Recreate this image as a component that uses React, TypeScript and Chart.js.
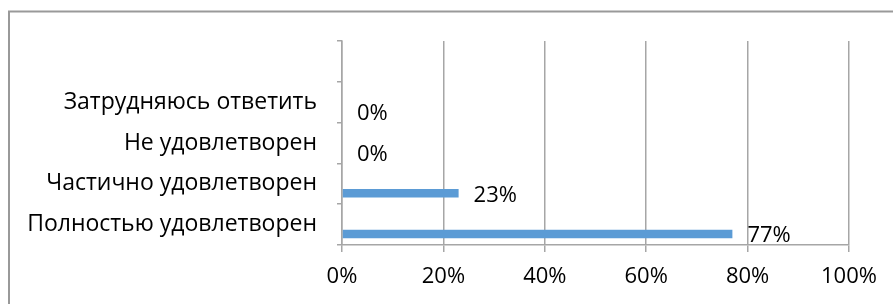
import React, { useEffect, useRef } from 'react';
import { Chart, registerables } from 'chart.js';

Chart.register(...registerables);

// Categories listed bottom-to-top (as in the source chart); the last one is an empty slot
const categories = ['Полностью удовлетворен', 'Частично удовлетворен', 'Не удовлетворен', 'Затрудняюсь ответить', ''];
const values: (number | null)[] = [77, 23, 0, 0, null];
const emptySeries: (number | null)[] = [null, null, null, null, null];
const xTickValues = [0, 20, 40, 60, 80, 100];

const FONT = '"Open Sans", sans-serif';
const FONT_SIZE = 22;
const CAT_FONT_SIZE = 23;
const BAR_COLOR = '#5b9bd5';
const GRID_COLOR = '#a6a6a6';
const TEXT_COLOR = '#000000';

const frame = {
  id: 'frame',
  beforeDraw(chart: any) {
    const ctx = chart.ctx;
    ctx.save();
    ctx.strokeStyle = '#999999';
    ctx.lineWidth = 2;
    ctx.beginPath();
    ctx.moveTo(9, chart.height);
    ctx.lineTo(9, 11.5);
    ctx.lineTo(chart.width, 11.5);
    ctx.stroke();
    ctx.restore();
  },
};

const dataLabels = {
  id: 'dataLabels',
  afterDatasetsDraw(chart: any) {
    const ctx = chart.ctx;
    const meta = chart.getDatasetMeta(1);
    ctx.save();
    ctx.font = `${FONT_SIZE}px ${FONT}`;
    ctx.fillStyle = TEXT_COLOR;
    ctx.textAlign = 'left';
    ctx.textBaseline = 'middle';
    meta.data.forEach((el: any, i: number) => {
      const v = values[i];
      if (v === null || v === undefined) return;
      ctx.fillText(`${v}%`, el.x + 15, el.y + 2);
    });
    ctx.restore();
  },
};

export default function App() {
  const ref = useRef<HTMLCanvasElement | null>(null);
  useEffect(() => {
    if (!ref.current) return;
    const chart = new Chart(ref.current, {
      type: 'bar',
      data: {
        labels: categories,
        datasets: [
          { label: '', data: emptySeries as any, backgroundColor: BAR_COLOR },
          { label: 'Доля', data: values as any, backgroundColor: BAR_COLOR },
        ],
      },
      options: {
        indexAxis: 'y',
        responsive: false,
        animation: false,
        categoryPercentage: 0.93,
        barPercentage: 0.45,
        layout: { padding: { left: 0, top: 41, right: 44, bottom: 0 } },
        plugins: {
          legend: { display: false },
          tooltip: { enabled: false },
          title: { display: false },
        },
        scales: {
          x: {
            type: 'linear',
            min: 0,
            max: 100,
            afterBuildTicks: (s: any) => {
              s.ticks = xTickValues.map((v) => ({ value: v }));
            },
            afterFit: (s: any) => {
              s.height = 59;
            },
            grid: {
              color: GRID_COLOR,
              lineWidth: 1.5,
              drawTicks: true,
              tickLength: 7,
              tickColor: GRID_COLOR,
            },
            border: { color: GRID_COLOR, width: 1.5 },
            ticks: {
              color: TEXT_COLOR,
              font: { family: FONT, size: FONT_SIZE },
              padding: 12,
              callback: (v: any) => `${v}%`,
            },
          },
          y: {
            type: 'category',
            reverse: true,
            afterFit: (s: any) => {
              s.width = 342;
            },
            grid: {
              offset: true,
              drawOnChartArea: false,
              drawTicks: true,
              tickLength: 5,
              color: GRID_COLOR,
              lineWidth: 1.5,
            },
            border: { color: GRID_COLOR, width: 1.5 },
            ticks: {
              color: TEXT_COLOR,
              font: { family: FONT, size: CAT_FONT_SIZE },
              padding: 20,
            },
          },
        },
      },
      plugins: [frame, dataLabels],
    });
    return () => chart.destroy();
  }, []);
  return (
    <canvas
      ref={ref}
      width={893}
      height={304}
      style={{ position: 'fixed', left: 0, top: 0, display: 'block', background: '#fff' }}
    />
  );
}
